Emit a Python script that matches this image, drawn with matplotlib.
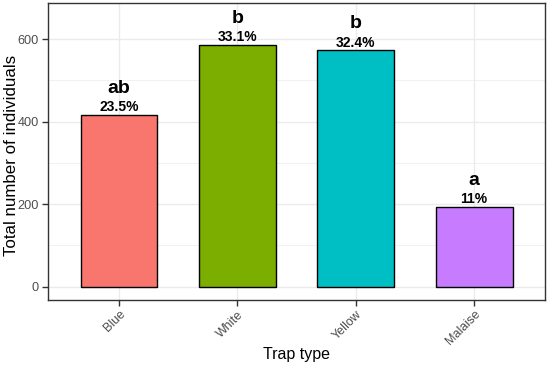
import matplotlib
matplotlib.use("Agg")
import matplotlib.pyplot as plt
from matplotlib.ticker import MultipleLocator

plt.rcParams['font.family'] = ['Liberation Sans', 'DejaVu Sans']

categories = ["Blue", "White", "Yellow", "Malaise"]
values = [416, 586, 573, 193]
percent_labels = ["23.5%", "33.1%", "32.4%", "11%"]
letters = ["ab", "b", "b", "a"]
colors = ["#F8766D", "#7CAE00", "#00BFC4", "#C77CFF"]

fig = plt.figure(figsize=(5.5, 3.66), dpi=100)
ax = fig.add_axes([0.0873, 0.180, 0.9037, 0.812])

x = list(range(1, len(categories) + 1))
ax.set_axisbelow(True)
ax.bar(x, values, width=0.65, color=colors, edgecolor="black", linewidth=1.0, zorder=3)

for xi, v, p, l in zip(x, values, percent_labels, letters):
    ax.annotate(p, (xi, v), xytext=(0, 0.5), textcoords="offset points",
                ha="center", va="bottom", fontsize=10, fontweight="bold", zorder=4)
    ax.annotate(l, (xi, v), xytext=(0, 13), textcoords="offset points",
                ha="center", va="bottom", fontsize=14, fontweight="bold", zorder=4)

ax.set_xlim(0.4, 4.6)
ax.set_ylim(-33, 688)
ax.yaxis.set_major_locator(MultipleLocator(200))
ax.yaxis.set_minor_locator(MultipleLocator(100))
ax.set_xticks(x)
ax.set_xticklabels(categories, rotation=45, ha="right", rotation_mode="anchor")
ax.grid(which="major", color="#EBEBEB", linewidth=1.0)
ax.grid(which="minor", axis="y", color="#EBEBEB", linewidth=0.5)
ax.tick_params(which="minor", length=0)
ax.tick_params(which="major", length=4, color="#333333", width=1.0, labelcolor="#4D4D4D", labelsize=9.2)
ax.tick_params(axis="y", pad=2.5)
ax.tick_params(axis="x", labelsize=9, pad=2)
for s in ax.spines.values():
    s.set_color("#333333")
    s.set_linewidth(1.0)

ax.set_xlabel("Trap type", fontsize=11.5)
ax.xaxis.set_label_coords(0.5, -0.158)
ax.set_ylabel("Total number of individuals", fontsize=12.2)
ax.yaxis.set_label_coords(-0.059, 0.488)

fig.savefig("out.png", dpi=100)
